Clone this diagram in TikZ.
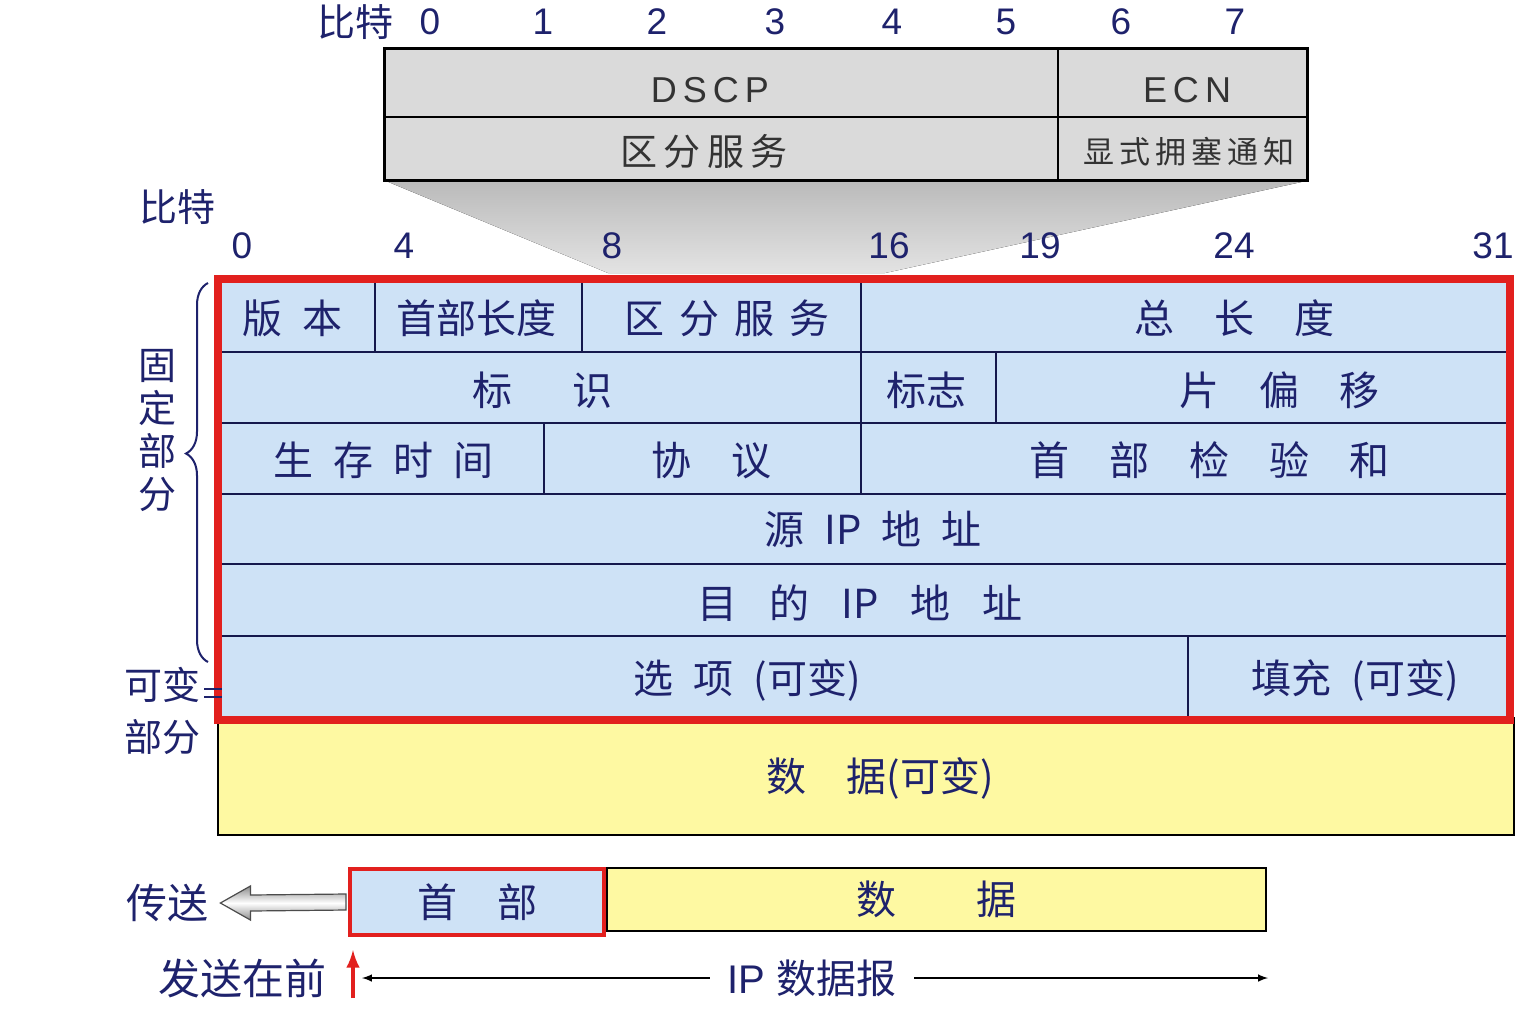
\documentclass[tikz,border=0pt]{standalone}
\usepackage{fontspec}
\setmainfont{Liberation Sans}
\newfontfamily\cjk{Noto Sans CJK SC}
\usepackage{xcolor}
\usetikzlibrary{arrows,calc,positioning,decorations.pathreplacing}
\definecolor{navy}{RGB}{30,34,108}
\definecolor{cellblue}{RGB}{206,226,246}
\definecolor{datayellow}{RGB}{254,249,162}
\definecolor{framered}{RGB}{226,32,30}
\definecolor{topgrey}{RGB}{218,218,218}
\tikzset{
  fld/.style={text=navy, font=\cjk\fontsize{20}{24}\selectfont, inner sep=0pt},
  side/.style={text=navy, font=\cjk\fontsize{19}{22}\selectfont, inner sep=0pt},
  bitnum/.style={text=navy, font=\fontsize{18.5}{22}\selectfont, inner sep=0pt},
  dsfld/.style={text=black!80, font=\cjk\fontsize{18.5}{22}\selectfont, inner sep=0pt},
  rule/.style={draw=navy!70!black, line width=1pt},
  hdrbox/.style={fld, draw=framered, line width=2pt, fill=cellblue, minimum width=127pt, minimum height=33pt},
  databox/.style={fld, draw=black, line width=0.8pt, fill=datayellow, minimum width=329.5pt, minimum height=31.5pt}
}
\begin{document}
\begin{tikzpicture}[x=0.5pt,y=-0.5pt]
\useasboundingbox (0,0) rectangle (1536,1024);
\fill[white] (0,0) rectangle (1536,1024);

% fan from the DS byte down to the header
\fill[top color=black!27, bottom color=black!11] (386,181) -- (1306,181) -- (885,273) -- (608,273) -- cycle;

% DS byte
\draw[fill=topgrey, line width=1.5pt] (384,48) rectangle (1307,180);
\draw[line width=1pt] (384,117) -- (1307,117);
\draw[line width=1pt] (1058,48) -- (1058,180);
\node[dsfld, font=\fontsize{18}{22}\selectfont] (dscp) at (710,90) {D\,S\,C\,P};
\node[dsfld, font=\fontsize{18}{22}\selectfont] (ecn) at (1187,90) {E\,C\,N};
\node[dsfld] (dsname) at (704,151) {区\,分\,服\,务};
\node[dsfld, font=\cjk\fontsize{15.5}{18}\selectfont] (ecnname) at (1189,152) {显\,式\,拥\,塞\,通\,知};

% bit numbers of the DS byte
\node[side] (bitsA) at (355,22) {比特};
\node[bitnum] (b0) at (430,22) {0};
\node[bitnum] (b1) at (543,22) {1};
\node[bitnum] (b2) at (657,22) {2};
\node[bitnum] (b3) at (775,22) {3};
\node[bitnum] (b4) at (892,22) {4};
\node[bitnum] (b5) at (1006,22) {5};
\node[bitnum] (b6) at (1121,22) {6};
\node[bitnum] (b7) at (1235,22) {7};

% bit numbers of the header
\node[side] (bitsB) at (177,207) {比特};
\node[bitnum] (h0) at (242,246) {0};
\node[bitnum] (h4) at (404,246) {4};
\node[bitnum] (h8) at (612,246) {8};
\node[bitnum] (h16) at (889,246) {16};
\node[bitnum] (h19) at (1040,246) {19};
\node[bitnum] (h24) at (1234,246) {24};
\node[bitnum] (h31) at (1493,246) {31};

% header and data
\draw[line width=0.8pt, fill=datayellow] (218,718) rectangle (1514,835);
\fill[cellblue] (218,279) rectangle (1510,720);
\draw[rule] (222,352) -- (1508,352);
\draw[rule] (222,423) -- (1508,423);
\draw[rule] (222,494) -- (1508,494);
\draw[rule] (222,564) -- (1508,564);
\draw[rule] (222,636) -- (1508,636);
\draw[rule] (375,282) -- (375,352);
\draw[rule] (582,282) -- (582,352);
\draw[rule] (861,282) -- (861,494);
\draw[rule] (996,352) -- (996,423);
\draw[rule] (544,423) -- (544,494);
\draw[rule] (1188,636) -- (1188,718);
\draw[framered, line width=4pt] (218,279) rectangle (1510,720);

\node[fld] (ver) at (292,318) {版\enspace 本};
\node[fld] (ihl) at (476,318) {首部长度};
\node[fld] (ds) at (727,318) {区\hspace{0.38em}分\hspace{0.38em}服\hspace{0.38em}务};
\node[fld] (tlen) at (1234,318) {总\quad 长\quad 度};
\node[fld] (ident) at (542,390) {标\quad\enspace 识};
\node[fld] (flags) at (926,390) {标志};
\node[fld] (fragoff) at (1279,390) {片\quad 偏\quad 移};
\node[fld] (ttl) at (383,460) {生\enspace 存\enspace 时\enspace 间};
\node[fld] (proto) at (711,460) {协\quad 议};
\node[fld] (hcks) at (1209,460) {首\quad 部\quad 检\quad 验\quad 和};
\node[fld] (srcip) at (873,529) {源\enspace IP\enspace 地\enspace 址};
\node[fld] (dstip) at (860,603) {目\hspace{0.8em}的\hspace{0.8em}IP\hspace{0.8em}地\hspace{0.8em}址};
\node[fld] (opts) at (747,680) {选\enspace 项\enspace (可变)};
\node[fld] (pad) at (1355,680) {填充\enspace (可变)};
\node[fld] (payload) at (880,778) {数\quad 据(可变)};

% fixed and variable parts
\draw[navy, line width=1pt, decorate, decoration={brace, amplitude=11pt, aspect=0.55}] (208,662) -- (208,283);
\node[side, align=center, font=\cjk\fontsize{19}{21.5}\selectfont] (fixed) at (157,430) {固\\定\\部\\分};
\node[side, align=center, font=\cjk\fontsize{19}{26}\selectfont] (vari) at (162,711) {可变\\部分};
\draw[navy, line width=0.8pt] (204,689) -- (222,689);
\draw[navy, line width=0.8pt] (204,697) -- (222,697);

% datagram as sent
\node[databox, anchor=north west] (pay) at (606,867) {数\qquad 据};
\node[hdrbox, anchor=north east] (hdr) at (pay.north west) {首\quad 部};
\node[side, font=\cjk\fontsize{20.5}{24}\selectfont] (send) at (167,903) {传送};
\coordinate (sA) at (hdr.west);
\coordinate (sB) at ($(send.east)+(12,0)$);
\draw[black!70, line width=0.6pt, top color=black!45, bottom color=black!45, middle color=white]
  ($(sA)+(-2,-8)$) -- ($(sB)+(30,-8)$) -- ($(sB)+(30,-17)$) -- (sB) -- ($(sB)+(30,17)$) -- ($(sB)+(30,8)$) -- ($(sA)+(-2,8)$) -- cycle;

\node[side, font=\cjk\fontsize{21}{24}\selectfont] (first) at (242,978) {发送在前};
\coordinate (rtail) at (353,998);
\coordinate (rhead) at (353,950);
\draw[-latex, framered, line width=2pt] (rtail) -- (rhead);

\coordinate (dgL) at (362,978);
\coordinate (dgR) at (1268,978);
\draw[latex-latex, line width=0.7pt] (dgL) -- (dgR);
\node[side, font=\fontsize{20}{24}\selectfont, fill=white, inner xsep=9pt, inner ysep=2pt] (dgram) at (812,978) {IP {\cjk 数据报}};
\end{tikzpicture}
\end{document}
